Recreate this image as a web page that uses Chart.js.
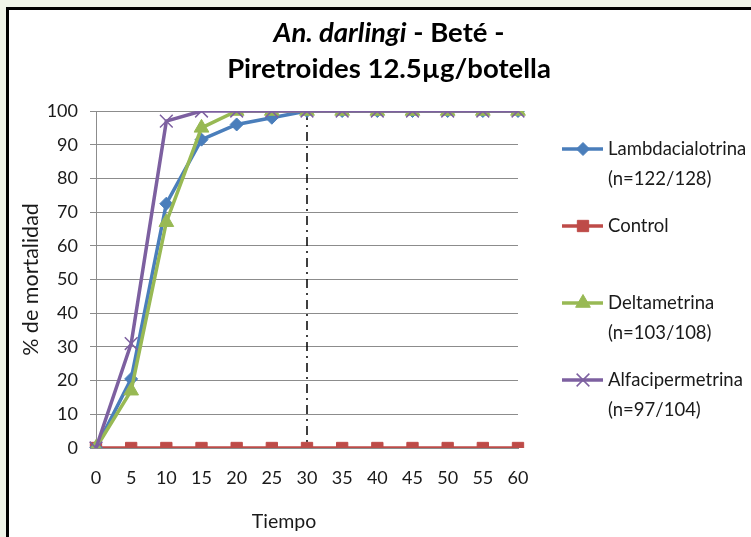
<!DOCTYPE html>
<html>
<head>
<meta charset="utf-8">
<script src="https://cdn.jsdelivr.net/npm/chart.js@4.4.0/dist/chart.umd.min.js"></script>
<style>
  html, body { margin: 0; padding: 0; overflow: hidden; background: #eff4e8; }
  #frame {
    position: absolute; left: 6px; top: 7px; width: 745px; height: 530px;
    border-left: 3px solid #000; border-top: 3px solid #000; background: #fff; overflow: hidden;
  }
</style>
</head>
<body>
<div id="frame"><canvas id="myChart" width="742" height="527"></canvas></div>
<script>
"use strict";

// data
const timeLabels = [`0`, `5`, `10`, `15`, `20`, `25`, `30`, `35`, `40`, `45`, `50`, `55`, `60`];
const lambdaValues = [0, 20.5, 72.5, 91.5, 96, 98, 100, 100, 100, 100, 100, 100, 100];
const controlValues = [0, 0, 0, 0, 0, 0, 0, 0, 0, 0, 0, 0, 0];
const deltaValues = [0, 17, 67, 95, 100, 100, 100, 100, 100, 100, 100, 100, 100];
const alfaValues = [0, 31, 97, 100, 100, 100, 100, 100, 100, 100, 100, 100, 100];
const seriesNames = [`Lambdacialotrina`, `Control`, `Deltametrina`, `Alfacipermetrina`];
const seriesCounts = [`(n=122/128)`, ``, `(n=103/108)`, `(n=97/104)`];
const yTicks = [0, 10, 20, 30, 40, 50, 60, 70, 80, 90, 100];
const cutoffTime = `30`;

const colors = {
  blue: `#4a7ebb`,
  red: `#be4b48`,
  green: `#98b954`,
  purple: `#7d60a0`
};
const fontName = `Lato`;
const textColor = `#1a1a1a`;
const gridColor = `#8c8c8c`;

// title, x axis title, cutoff line and the legend on the right
const extrasPlugin = {
  id: `extras`,
  beforeDatasetsDraw(chart) {
    const ctx = chart.ctx;
    const x = chart.scales.x.getPixelForValue(timeLabels.indexOf(cutoffTime));
    ctx.save();
    ctx.strokeStyle = `#000`;
    ctx.lineWidth = 1.5;
    ctx.setLineDash([9, 5, 2, 5]);
    ctx.beginPath();
    ctx.moveTo(x, chart.chartArea.top);
    ctx.lineTo(x, chart.chartArea.bottom);
    ctx.stroke();
    ctx.restore();
  },
  afterDraw(chart) {
    const ctx = chart.ctx;
    ctx.save();
    ctx.fillStyle = `#000`;
    ctx.textBaseline = `middle`;

    // title line 1 with italic species name
    const part1 = `An. darlingi`;
    const part2 = ` - Beté -`;
    const f1 = `italic bold 27.5px ${fontName}`;
    const f2 = `bold 27.5px ${fontName}`;
    ctx.font = f1;
    const w1 = ctx.measureText(part1).width;
    ctx.font = f2;
    const w2 = ctx.measureText(part2).width;
    const cx = 380;
    const sx = cx - (w1 + w2) / 2;
    ctx.textAlign = `left`;
    ctx.font = f1;
    ctx.fillText(part1, sx, 23);
    ctx.font = f2;
    ctx.fillText(part2, sx + w1, 23);
    ctx.textAlign = `center`;
    ctx.fillText(`Piretroides 12.5µg/botella`, cx, 59);

    // x axis title
    ctx.font = `19.5px ${fontName}`;
    ctx.fillStyle = textColor;
    ctx.fillText(`Tiempo`, 275, 512);

    // legend
    const rowsY = [139, 216, 293, 370];
    chart.data.datasets.forEach((ds, i) => {
      const y = rowsY[i];
      ctx.strokeStyle = ds.borderColor;
      ctx.lineWidth = ds.borderWidth;
      ctx.setLineDash([]);
      ctx.beginPath();
      ctx.moveTo(553, y);
      ctx.lineTo(594, y);
      ctx.stroke();
      ctx.fillStyle = ds.pointBackgroundColor;
      ctx.strokeStyle = ds.pointBorderColor;
      ctx.lineWidth = ds.pointBorderWidth;
      Chart.helpers.drawPoint(ctx, {
        pointStyle: ds.pointStyle,
        radius: ds.pointRadius,
        rotation: 0,
        borderWidth: ds.pointBorderWidth
      }, 574, y);
      ctx.fillStyle = textColor;
      ctx.textAlign = `left`;
      ctx.font = `18.5px ${fontName}`;
      ctx.fillText(ds.label, 599, y);
      if (seriesCounts[i]) {
        ctx.fillText(seriesCounts[i], 599, y + 30);
      }
    });
    ctx.restore();
  }
};

document.fonts.load(`18px ${fontName}`).then(() => {
  const chartCanvas = document.getElementById(`myChart`).getContext(`2d`);
  const chart = new Chart(chartCanvas, {
    type: `line`,
    data: {
      labels: timeLabels,
      datasets: [
        {
          label: seriesNames[0],
          data: lambdaValues,
          borderColor: colors.blue,
          borderWidth: 3.5,
          pointStyle: `rectRot`,
          pointRadius: 6.5,
          pointBackgroundColor: colors.blue,
          pointBorderColor: colors.blue,
          pointBorderWidth: 1,
          order: 2
        },
        {
          label: seriesNames[1],
          data: controlValues,
          borderColor: colors.red,
          borderWidth: 3.5,
          pointStyle: `rect`,
          pointRadius: 8,
          pointBackgroundColor: colors.red,
          pointBorderColor: colors.red,
          pointBorderWidth: 1,
          order: 3
        },
        {
          label: seriesNames[2],
          data: deltaValues,
          borderColor: colors.green,
          borderWidth: 3.5,
          pointStyle: `triangle`,
          pointRadius: 8.5,
          pointBackgroundColor: colors.green,
          pointBorderColor: colors.green,
          pointBorderWidth: 1,
          order: 1
        },
        {
          label: seriesNames[3],
          data: alfaValues,
          borderColor: colors.purple,
          borderWidth: 3.5,
          pointStyle: `crossRot`,
          pointRadius: 9,
          pointBackgroundColor: colors.purple,
          pointBorderColor: colors.purple,
          pointBorderWidth: 1.5,
          order: 0
        }
      ]
    },
    options: {
      responsive: false,
      animation: false,
      layout: { padding: { left: 0, top: 101, right: 233, bottom: 0 } },
      plugins: {
        legend: { display: false },
        tooltip: { enabled: false }
      },
      elements: { line: { tension: 0 } },
      scales: {
        x: {
          type: `category`,
          offset: false,
          grid: { display: false, drawTicks: false },
          border: { display: true, color: gridColor, width: 1 },
          ticks: {
            color: textColor,
            font: { family: fontName, size: 18 },
            padding: 19,
            maxRotation: 0,
            autoSkip: false
          },
          afterFit(scale) {
            scale.height = 89;
          }
        },
        y: {
          min: 0,
          max: 100,
          afterBuildTicks(scale) {
            scale.ticks = yTicks.map(v => ({ value: v }));
          },
          grid: { color: gridColor, lineWidth: 1, tickLength: 6 },
          border: { display: true, color: gridColor, width: 1 },
          ticks: {
            color: textColor,
            font: { family: fontName, size: 18 },
            padding: 12
          },
          title: {
            display: true,
            text: `% de mortalidad`,
            color: textColor,
            font: { family: fontName, size: 21.5 },
            padding: { top: 9, bottom: 0 }
          },
          afterFit(scale) {
            scale.width = 87;
          }
        }
      }
    },
    plugins: [extrasPlugin]
  });
});
</script>
</body>
</html>
